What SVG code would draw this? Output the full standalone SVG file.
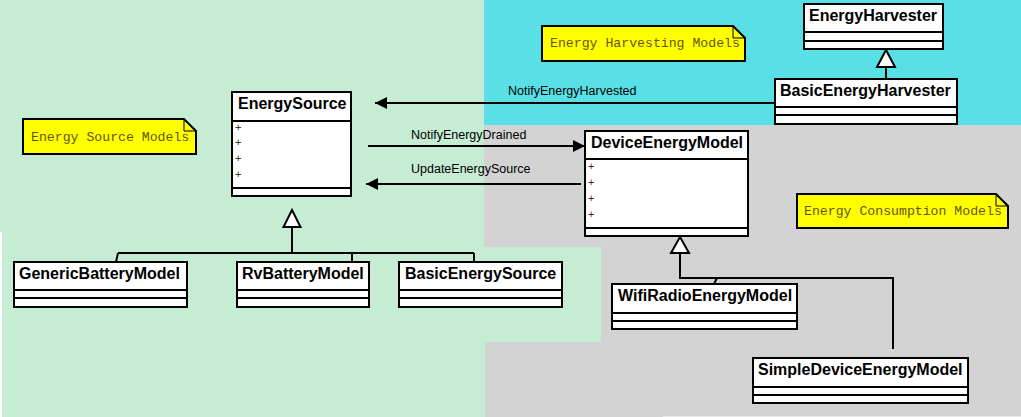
<svg xmlns="http://www.w3.org/2000/svg" width="1021" height="417" viewBox="0 0 1021 417">
<defs>
<style>
.box{fill:#fff;stroke:#000;stroke-width:2}
.div{stroke:#000;stroke-width:2;fill:none}
.name{font-family:"Liberation Sans",Arial,sans-serif;font-weight:bold;font-size:16px;fill:#000}
.plus{font-family:"Liberation Sans",Arial,sans-serif;font-size:11px}
.note{fill:#ffff00;stroke:#000;stroke-width:2}
.fold{fill:none;stroke:#000;stroke-width:1}
.ntext{font-family:"Liberation Mono","Courier New",monospace;font-size:13.2px;fill:#665500}
.lbl{font-family:"Liberation Sans",Arial,sans-serif;font-size:12.5px;fill:#000}
.edge{stroke:#000;stroke-width:2;fill:none}
</style>
<marker id="arr" viewBox="0 0 12 12" refX="12" refY="6" markerWidth="12" markerHeight="12" markerUnits="userSpaceOnUse" orient="auto">
<path d="M0,0 L12,6 L0,12 Z" fill="#000"/>
</marker>
</defs>

<g id="background">
<rect x="0" y="0" width="1021" height="417" fill="#ffffff"/>
<rect x="0" y="0" width="484" height="232" fill="#c6ecd4"/>
<rect x="2" y="232" width="482" height="185" fill="#c6ecd4"/>
<rect x="484" y="0" width="537" height="125" fill="#58e0e6"/>
<rect x="484" y="125" width="537" height="292" fill="#d3d3d3"/>
<rect x="663" y="416" width="358" height="1" fill="#e8e8e8"/>
<rect x="484" y="247" width="117" height="95" fill="#c6ecd4"/>
<rect x="484" y="342" width="1" height="75" fill="#c6ecd4"/>
</g>

<g id="connectors">
<path class="edge" d="M292,227 V253 M118,253 H474 M118,253 L116,262 M352,253 V262 M474,253 V262"/>
<path d="M292,210 L300.5,227 L283.5,227 Z" fill="#fff" stroke="#000" stroke-width="2"/>
<path class="edge" d="M680,253 V278 H893 V349 M717,278 L714,284"/>
<path d="M680,237 L689,253 L671,253 Z" fill="#fff" stroke="#000" stroke-width="2"/>
<path class="edge" d="M886,67 V79"/>
<path d="M886,50 L895,67 L877,67 Z" fill="#fff" stroke="#000" stroke-width="2"/>
<line class="edge" x1="775" y1="103" x2="375" y2="103" marker-end="url(#arr)"/>
<text class="lbl" x="508" y="95">NotifyEnergyHarvested</text>
<line class="edge" x1="368" y1="146" x2="585" y2="146" marker-end="url(#arr)"/>
<text class="lbl" x="411" y="139">NotifyEnergyDrained</text>
<line class="edge" x1="581" y1="184" x2="366" y2="184" marker-end="url(#arr)"/>
<text class="lbl" x="411" y="173">UpdateEnergySource</text>
</g>

<g id="note-source">
<path class="note" d="M23,119 H184 L196,131 V154 H23 Z"/>
<path class="fold" d="M184,119 V131 H196"/>
<text class="ntext" x="31" y="141">Energy Source Models</text>
</g>
<g id="note-harvesting">
<path class="note" d="M542,26 H733 L745,38 V61 H542 Z"/>
<path class="fold" d="M733,26 V38 H745"/>
<text class="ntext" x="550" y="47">Energy Harvesting Models</text>
</g>
<g id="note-consumption">
<path class="note" d="M797,194 H996 L1008,206 V228 H797 Z"/>
<path class="fold" d="M996,194 V206 H1008"/>
<text class="ntext" x="804" y="215">Energy Consumption Models</text>
</g>

<g id="EnergySource">
<rect class="box" x="232" y="92" width="119" height="104"/>
<path class="div" d="M232,121 H351 M232,188 H351"/>
<text class="name" x="238" y="109">EnergySource</text>
<g class="plus" fill="#224422">
<text x="235" y="131">+</text><text x="235" y="146">+</text><text x="235" y="162">+</text><text x="235" y="178">+</text>
</g>
</g>

<g id="DeviceEnergyModel">
<rect class="box" x="585" y="131" width="163" height="105"/>
<path class="div" d="M585,159 H748 M585,228 H748"/>
<text class="name" x="591" y="148">DeviceEnergyModel</text>
<g class="plus" fill="#701010">
<text x="588" y="170">+</text><text x="588" y="186">+</text><text x="588" y="202">+</text><text x="588" y="218">+</text>
</g>
</g>

<g id="GenericBatteryModel">
<rect class="box" x="14" y="262" width="173" height="45"/>
<path class="div" d="M14,290 H187 M14,298 H187"/>
<text class="name" x="19" y="279">GenericBatteryModel</text>
</g>

<g id="RvBatteryModel">
<rect class="box" x="237" y="262" width="132" height="45"/>
<path class="div" d="M237,290 H369 M237,298 H369"/>
<text class="name" x="242" y="279">RvBatteryModel</text>
</g>

<g id="BasicEnergySource">
<rect class="box" x="399" y="262" width="163" height="45"/>
<path class="div" d="M399,290 H562 M399,298 H562"/>
<text class="name" x="405" y="279">BasicEnergySource</text>
</g>

<g id="EnergyHarvester">
<rect class="box" x="804" y="4" width="139" height="45"/>
<path class="div" d="M804,32 H943 M804,41 H943"/>
<text class="name" x="809" y="21">EnergyHarvester</text>
</g>

<g id="BasicEnergyHarvester">
<rect class="box" x="775" y="79" width="182" height="45"/>
<path class="div" d="M775,107 H957 M775,115 H957"/>
<text class="name" x="780" y="96">BasicEnergyHarvester</text>
</g>

<g id="WifiRadioEnergyModel">
<rect class="box" x="612" y="284" width="185" height="45"/>
<path class="div" d="M612,313 H797 M612,321 H797"/>
<text class="name" x="618" y="301">WifiRadioEnergyModel</text>
</g>

<g id="SimpleDeviceEnergyModel">
<rect class="box" x="753" y="358" width="215" height="45"/>
<path class="div" d="M753,387 H968 M753,395 H968"/>
<text class="name" x="758" y="375">SimpleDeviceEnergyModel</text>
</g>
</svg>
